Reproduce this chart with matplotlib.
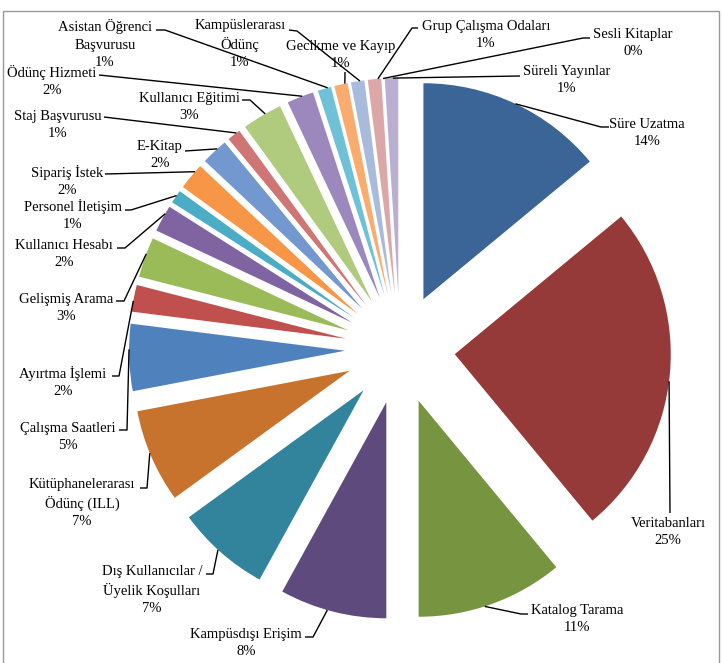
import numpy as np
import matplotlib
matplotlib.use('Agg')
import matplotlib.pyplot as plt
import matplotlib.patches as patches

plt.rcParams['font.family'] = ['Liberation Serif', 'DejaVu Serif']

# data, clockwise from 12 o'clock
categories = ['Süre Uzatma', 'Veritabanları', 'Katalog Tarama', 'Kampüsdışı Erişim',
              'Dış Kullanıcılar /\nÜyelik Koşulları', 'Kütüphanelerarası\nÖdünç (ILL)',
              'Çalışma Saatleri', 'Ayırtma İşlemi', 'Gelişmiş Arama', 'Kullanıcı Hesabı',
              'Personel İletişim', 'Sipariş İstek', 'E-Kitap', 'Staj Başvurusu',
              'Kullanıcı Eğitimi', 'Ödünç Hizmeti', 'Asistan Öğrenci\nBaşvurusu',
              'Gecikme ve Kayıp', 'Kampüslerarası\nÖdünç', 'Grup Çalışma Odaları',
              'Sesli Kitaplar', 'Süreli Yayınlar']
values = [14, 25, 11, 8, 7, 7, 5, 2, 3, 2, 1, 2, 2, 1, 3, 2, 1, 1, 1, 1, 0, 1]

colors = ['#3B6596', '#953A38', '#779441', '#5F4A7D', '#31849B', '#C7732E',
          '#4F81BD', '#C0504D', '#9BBB59', '#8064A2', '#4BACC6', '#F79646',
          '#7397CF', '#CF7573', '#B0CB7D', '#9C88BD', '#6EC1D6', '#F9AC6E',
          '#A8BBDD', '#DBA8A7', '#C8DAA6', '#BAAFD1']

# label layout (pixel coords, y down): text centre, leader points near text,
# and where along the slice the leader ends (fraction of the slice angle)
label_pos = [(647, 133), (668, 532), (577, 619), (246, 643), (152, 590), (82, 503),
             (68, 437), (63, 382), (66, 308), (64, 254), (73, 215), (67, 181),
             (160, 155), (58, 125), (189, 107), (52, 81), (105, 44), (341, 55),
             (240, 44), (486, 35), (633, 43), (567, 80)]
leader_pts = [[(609, 127), (601, 127)], [(670, 513)], [(528, 614), (521, 614)],
              [(305, 637), (313, 637)], [(206, 574), (213, 574)], [(140, 488), (147, 488)],
              [(119, 430), (127, 430)], [(112, 376), (119, 376)], [(116, 301), (124, 301)],
              [(117, 248), (125, 248)], [(125, 210), (131, 210)], [(105, 174)],
              [(185, 151)], [(104, 117)], [(242, 100), (250, 100)], [(99, 75)],
              [(156, 30), (165, 30)], [(345, 72)], [(289, 30), (297, 31)],
              [(418, 28), (412, 28)], [(590, 38), (583, 38)], [(520, 76)]]
anchor_frac = [0.5, 0.52, 0.55, 0.55, 0.54, 0.54, 0.62, 0.4, 0.59, 0.7, 0.6, 0.72,
               0.64, 0.73, 0.59, 0.58, 0.75, 0.8, 0.67, 0.75, 0.5, 0.6]

W, H = 722, 663
fig = plt.figure(figsize=(W / 100, H / 100), dpi=100)
ax = fig.add_axes([0, 0, 1, 1])

# y axis is inverted, so counterclock in data = clockwise on screen
wedges, _ = ax.pie(values, colors=colors, startangle=-90, counterclock=True,
                   radius=216, center=(400, 349), explode=[55] * len(values),
                   wedgeprops=dict(linewidth=0))

ax.set_xlim(0, W)
ax.set_ylim(H, 0)
ax.set_aspect('equal')
ax.axis('off')

for i, w in enumerate(wedges):
    th = np.deg2rad(w.theta1 + anchor_frac[i] * (w.theta2 - w.theta1))
    ax_pt = (w.center[0] + w.r * np.cos(th), w.center[1] + w.r * np.sin(th))
    pts = leader_pts[i] + [ax_pt]
    ax.plot([p[0] for p in pts], [p[1] for p in pts], color='black', lw=1.0,
            solid_capstyle='butt')
    ax.text(label_pos[i][0], label_pos[i][1], f'{categories[i]}\n{values[i]}%',
            ha='center', va='center', ma='center', fontsize=10.5, linespacing=1.42,
            color='black')

# chart area border
ax.add_patch(patches.Rectangle((3, 11), 716, 660, fill=False, edgecolor='#9A9A9A',
                               lw=1.0, clip_on=False))

fig.savefig('out.png', dpi=100)
